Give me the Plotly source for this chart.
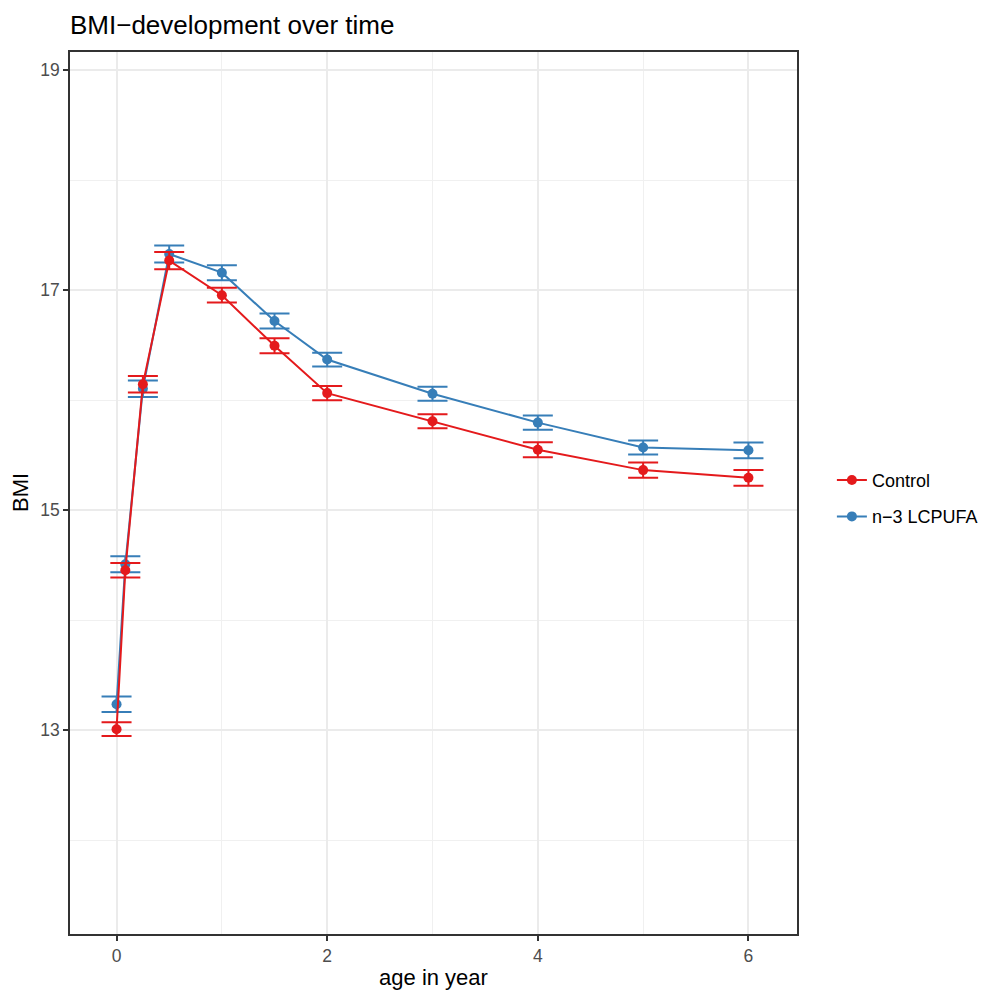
import plotly.graph_objects as go

age = [0, 1/12, 0.25, 0.5, 1, 1.5, 2, 3, 4, 5, 6]
control_bmi = [13.01, 14.455, 16.145, 17.27, 16.955, 16.495, 16.065, 15.81, 15.55, 15.365, 15.295]
control_se = [0.062, 0.066, 0.075, 0.078, 0.067, 0.068, 0.065, 0.064, 0.068, 0.07, 0.071]
n3_bmi = [13.236, 14.51, 16.105, 17.33, 17.16, 16.72, 16.37, 16.06, 15.797, 15.57, 15.545]
n3_se = [0.07, 0.073, 0.075, 0.077, 0.068, 0.068, 0.062, 0.064, 0.065, 0.064, 0.071]

RED = "#E41A1C"
BLUE = "#377EB8"
FONT = "Liberation Sans, Arial, Helvetica, sans-serif"

W, H = 981, 990
L, R, T, B = 70, 184, 52, 56

fig = go.Figure()
fig.add_trace(go.Scatter(
    x=age, y=n3_bmi, name="n−3 LCPUFA", mode="lines+markers",
    line=dict(color=BLUE, width=2), marker=dict(color=BLUE, size=10),
    error_y=dict(type="data", array=n3_se, color=BLUE, thickness=2, width=15),
    legendrank=2, legendgroup="b",
))
fig.add_trace(go.Scatter(
    x=age, y=control_bmi, name="Control", mode="lines+markers",
    line=dict(color=RED, width=2), marker=dict(color=RED, size=10),
    error_y=dict(type="data", array=control_se, color=RED, thickness=2, width=15),
    legendrank=1, legendgroup="a",
))

axis_common = dict(
    showline=True, linecolor="#333333", linewidth=1.5, mirror=True,
    ticks="outside", ticklen=5, tickwidth=1.5, tickcolor="#333333",
    tickfont=dict(family=FONT, size=17.5, color="#4D4D4D"),
    showgrid=True, gridcolor="#EBEBEB", gridwidth=2, zeroline=False,
    automargin=False,
)

fig.update_layout(
    width=W, height=H,
    paper_bgcolor="white", plot_bgcolor="white",
    margin=dict(l=L, r=R, t=T, b=B, autoexpand=False),
    title=dict(text="BMI−development over time", x=L/W, xanchor="left",
               y=1 - 25/H, yanchor="middle",
               font=dict(family=FONT, size=26, color="black")),
    xaxis=dict(range=[-0.442, 6.461], tick0=0, dtick=2,
               minor=dict(dtick=1, showgrid=True, gridcolor="#F0F0F0", gridwidth=1),
               title=dict(text="age in year", standoff=7,
                          font=dict(family=FONT, size=22, color="black")),
               **axis_common),
    yaxis=dict(range=[11.148, 19.166], tick0=13, dtick=2,
               minor=dict(dtick=1, tick0=13, showgrid=True, gridcolor="#F0F0F0", gridwidth=1),
               **axis_common),
    annotations=[dict(text="BMI", textangle=-90, xref="paper", yref="paper",
                      x=(20 - L) / (W - L - R), y=0.5, xanchor="center", yanchor="middle",
                      showarrow=False, font=dict(family=FONT, size=22, color="black"))],
    legend=dict(x=0.048 + 1, xanchor="left", y=0.494, yanchor="middle",
                traceorder="grouped", tracegroupgap=10,
                font=dict(family=FONT, size=18, color="black"),
                bgcolor="rgba(0,0,0,0)"),
)

fig.write_html("out.html", config={"displayModeBar": False},
               post_script="document.body.style.margin='0';")
